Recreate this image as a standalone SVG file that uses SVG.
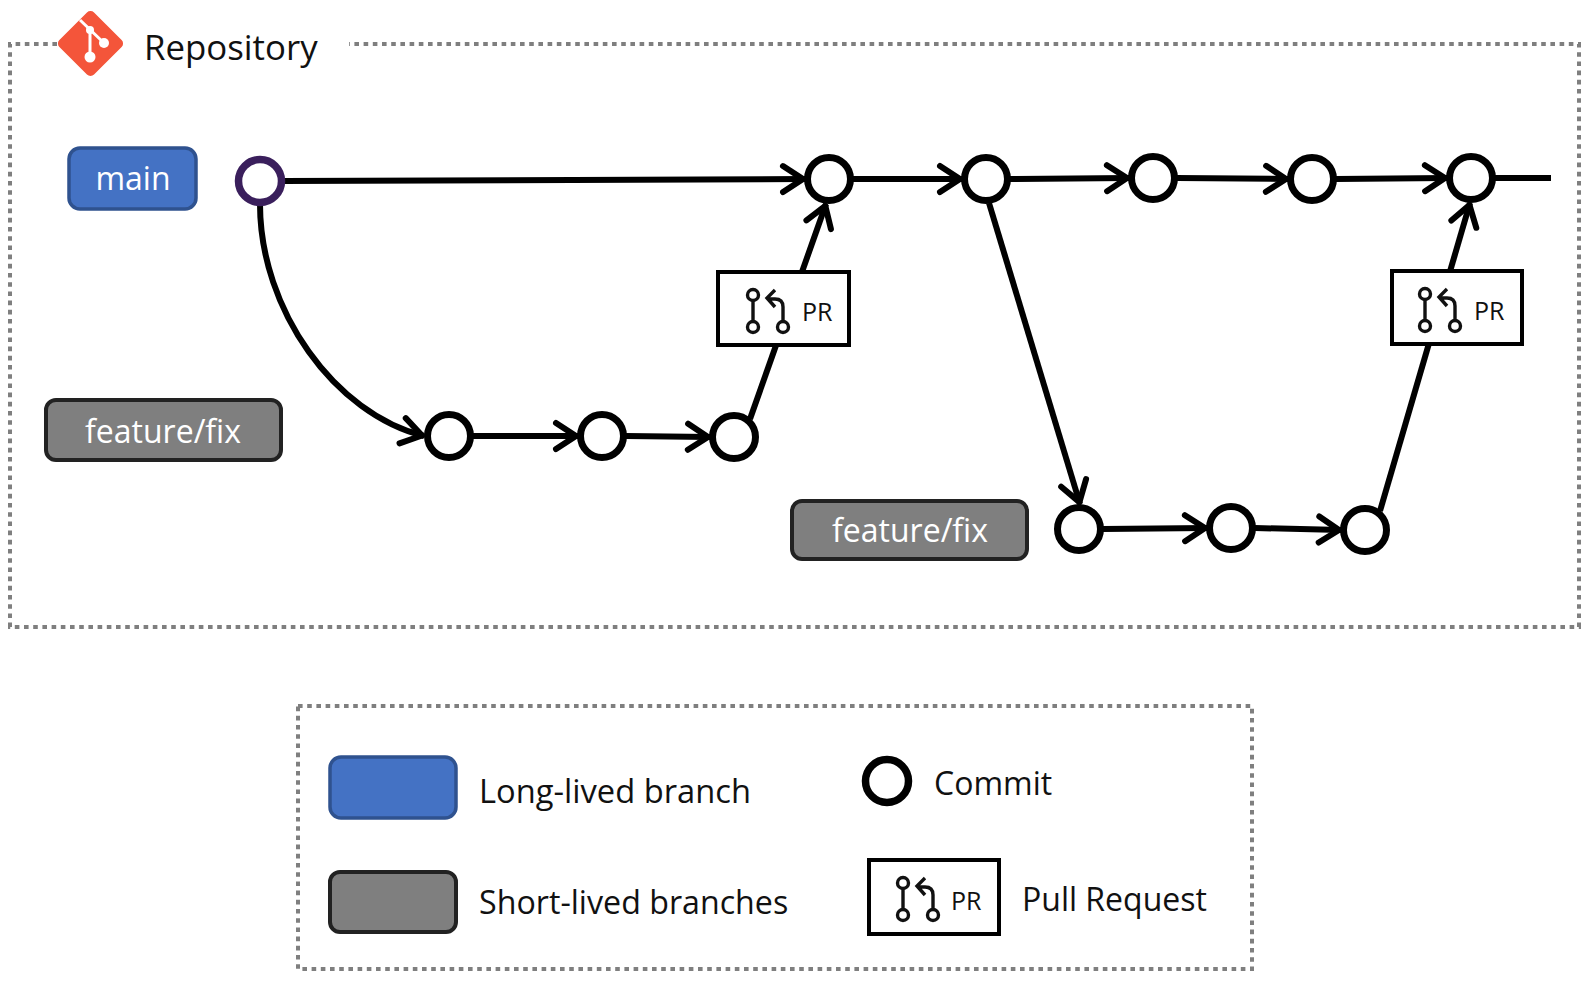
<svg xmlns="http://www.w3.org/2000/svg" xmlns:xlink="http://www.w3.org/1999/xlink" width="1596" height="981" viewBox="0 0 1596 981">
<style>
text{font-family:"Open Sans","Noto Sans","Liberation Sans",sans-serif;font-size:32px;fill:#111}
.w{fill:#fff;text-anchor:middle}
.frame{fill:none;stroke:#7f7f7f;stroke-width:4;stroke-dasharray:4.6 4.6}
.blue{fill:#4472c4;stroke:#2f528f;stroke-width:3.5}
.grey{fill:#7f7f7f;stroke:#222;stroke-width:4}
.commit{fill:#fff;stroke:#000;stroke-width:7}
.conn{fill:none;stroke:#000;stroke-width:6}
.arr{marker-end:url(#arrow)}
.prbox{fill:#fff;stroke:#000;stroke-width:4}
.pri{fill:none;stroke:#111;stroke-width:3.4}
.prt{font-size:25px}
</style>
<defs>
<marker id="arrow" markerUnits="userSpaceOnUse" markerWidth="34" markerHeight="34" refX="27" refY="17" orient="auto">
<path d="M5 4 L25 17 L5 30" fill="none" stroke="#000" stroke-width="6" stroke-linecap="round" stroke-linejoin="round"/>
</marker>
<g id="pr-icon">
<circle class="pri" cx="35" cy="24" r="5.5"/>
<circle class="pri" cx="35" cy="56" r="5.5"/>
<circle class="pri" cx="65" cy="56" r="5.5"/>
<path class="pri" d="M35 30V50M65 50V36Q65 28 57 28H50M57 19L49 27L57 36"/>
</g>
</defs>
<g id="repository-frame">
<path class="frame" d="M57 44H10V627H1579V44H349"/>
</g>
<g id="git-logo">
<rect x="66" y="19" width="49" height="49" rx="5" transform="rotate(45 90.5 43.5)" fill="#f4553a"/>
<path d="M80 20L104 43M90 30V57" stroke="#fff" stroke-width="3" fill="none"/>
<circle cx="104" cy="43" r="5" fill="#fff"/>
<circle cx="90" cy="30" r="4" fill="#fff"/>
<circle cx="90" cy="57" r="5.5" fill="#fff"/>
</g>
<text id="repository-label" x="144" y="60" style="font-size:34.8px">Repository</text>
<g id="connectors">
<path class="conn arr" d="M284 181L805 179"/>
<path class="conn arr" d="M853 179H962"/>
<path class="conn arr" d="M1010 179L1129 178"/>
<path class="conn arr" d="M1177 178L1288 179"/>
<path class="conn arr" d="M1336 179L1447 178"/>
<path class="conn" d="M1495 178H1551"/>
<path class="conn arr" d="M260 204C260 310 335 414 424 436"/>
<path class="conn arr" d="M473 436H578"/>
<path class="conn arr" d="M626 436L710 437"/>
<path class="conn arr" d="M750 419L826 204"/>
<path class="conn arr" d="M989 203L1080 504"/>
<path class="conn arr" d="M1103 529L1207 528"/>
<path class="conn arr" d="M1255 528L1341 530"/>
<path class="conn arr" d="M1380 511L1470 203"/>
</g>
<g id="main-label"><rect class="blue" x="69" y="148" width="127" height="61" rx="11"/><text class="w" x="133" y="190">main</text></g>
<g id="commit-0"><circle cx="260" cy="181" r="21.5" fill="#fff" stroke="#3a1f5c" stroke-width="7.5"/></g>
<g id="commit-1"><circle class="commit" cx="829" cy="179" r="21.5"/></g>
<g id="commit-2"><circle class="commit" cx="986" cy="179" r="21.5"/></g>
<g id="commit-3"><circle class="commit" cx="1153" cy="178" r="21.5"/></g>
<g id="commit-4"><circle class="commit" cx="1312" cy="179" r="21.5"/></g>
<g id="commit-5"><circle class="commit" cx="1471" cy="178" r="21.5"/></g>
<g id="commit-6"><circle class="commit" cx="449" cy="436" r="21.5"/></g>
<g id="commit-7"><circle class="commit" cx="602" cy="436" r="21.5"/></g>
<g id="commit-8"><circle class="commit" cx="734" cy="437" r="21.5"/></g>
<g id="commit-9"><circle class="commit" cx="1079" cy="529" r="21.5"/></g>
<g id="commit-10"><circle class="commit" cx="1231" cy="528" r="21.5"/></g>
<g id="commit-11"><circle class="commit" cx="1365" cy="530" r="21.5"/></g>
<g id="pr-1"><rect class="prbox" x="718" y="272" width="131" height="73"/><use xlink:href="#pr-icon" href="#pr-icon" x="718" y="271"/><text class="prt" x="802" y="321">PR</text></g>
<g id="pr-2"><rect class="prbox" x="1392" y="271" width="130" height="73"/><use xlink:href="#pr-icon" href="#pr-icon" x="1390" y="270"/><text class="prt" x="1474" y="320">PR</text></g>
<g id="feature-1"><rect class="grey" x="46" y="400" width="235" height="60" rx="10"/><text class="w" x="163" y="443">feature/fix</text></g>
<g id="feature-2"><rect class="grey" x="792" y="501" width="235" height="58" rx="10"/><text class="w" x="910" y="542">feature/fix</text></g>
<g id="legend">
<rect class="frame" x="298" y="706" width="954" height="263"/>
<rect class="blue" x="330" y="757" width="126" height="61" rx="11"/>
<text x="479" y="803" style="font-size:32.7px">Long-lived branch</text>
<rect class="grey" x="330" y="872" width="126" height="60" rx="10"/>
<text x="479" y="914" style="font-size:32.2px">Short-lived branches</text>
<circle cx="887" cy="781" r="21.5" fill="#fff" stroke="#000" stroke-width="7.5"/>
<text x="934" y="795">Commit</text>
<rect class="prbox" x="869" y="860" width="130" height="74"/>
<use xlink:href="#pr-icon" href="#pr-icon" x="868" y="859"/>
<text class="prt" x="951" y="910">PR</text>
<text x="1022" y="911">Pull Request</text>
</g>
</svg>
